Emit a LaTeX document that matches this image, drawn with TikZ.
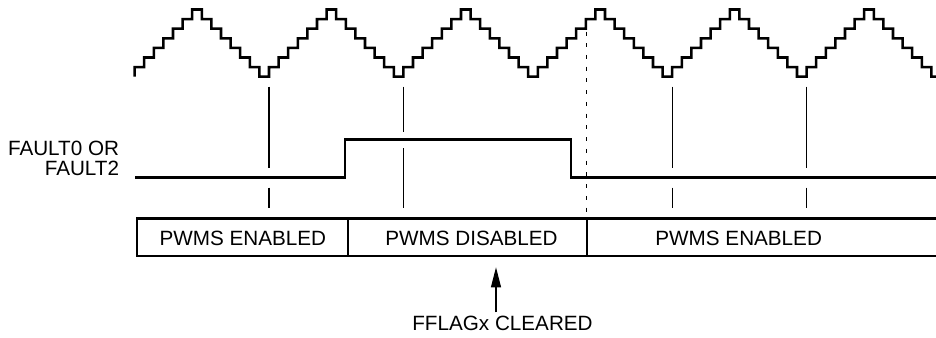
\documentclass[tikz,border=0pt]{standalone}
\usepackage{fontspec}
\setmainfont{Liberation Sans}
\usetikzlibrary{arrows.meta}

\begin{document}
\begin{tikzpicture}[x=0.75pt,y=-0.75pt,>={Triangle[length=15pt,width=7.5pt]},every node/.style={font=\fontsize{15.5}{15}\selectfont,inner sep=0pt},wave/.style={line width=1.9pt},sig/.style={line width=1.9pt},frame/.style={line width=1.6pt},guide/.style={line width=0.8pt},lbl/.style={align=right}]
\useasboundingbox (0,0) rectangle (936,337);
\draw[wave] (134.6,76.7) \foreach \i [evaluate=\i as \lv using {7-abs(mod(\i,14)-6)}] in {0,...,82} { -- ({134.6+9.6*\i},{76.7-9.6*\lv}) -- ({134.6+9.6*(\i+1)},{76.7-9.6*\lv}) } -- (931.4,76.7) -- (936,76.7);
\node[lbl,anchor=east] (flt) at (119.3,157.9) {FAULT0 OR\\FAULT2};
\draw[sig] (135,177.7) -| (345,139.3) -| (571,177.7) -- (936,177.7);
\foreach \x in {269,672.2,806.6} \draw[guide] (\x,86.7) -- (\x,167.7) (\x,187.7) -- (\x,208.3);
\draw[guide] (403.4,86.7) -- (403.4,131.7) (403.4,148) -- (403.4,208.3);
\draw[guide,dash pattern=on 3pt off 5.8pt] (586.7,31.5) -- (586.7,218.5);
\draw[frame] (936,218.5) -| (136.7,256.3) -- (936,256.3) (348.3,218.5) -- (348.3,256.3) (586.7,218.5) -- (586.7,256.3);
\node (en1) at (242.8,238.5) {PWMS ENABLED};
\node (dis) at (471.5,238.5) {PWMS DISABLED};
\node (en2) at (738.7,238) {PWMS ENABLED};
\node[inner ysep=2.5pt] (clr) at (502.5,323.3) {FFLAGx CLEARED};
\coordinate (tip) at (496,267.3);
\draw[->,guide] (clr.north -| tip) -- (tip);
\end{tikzpicture}
\end{document}
